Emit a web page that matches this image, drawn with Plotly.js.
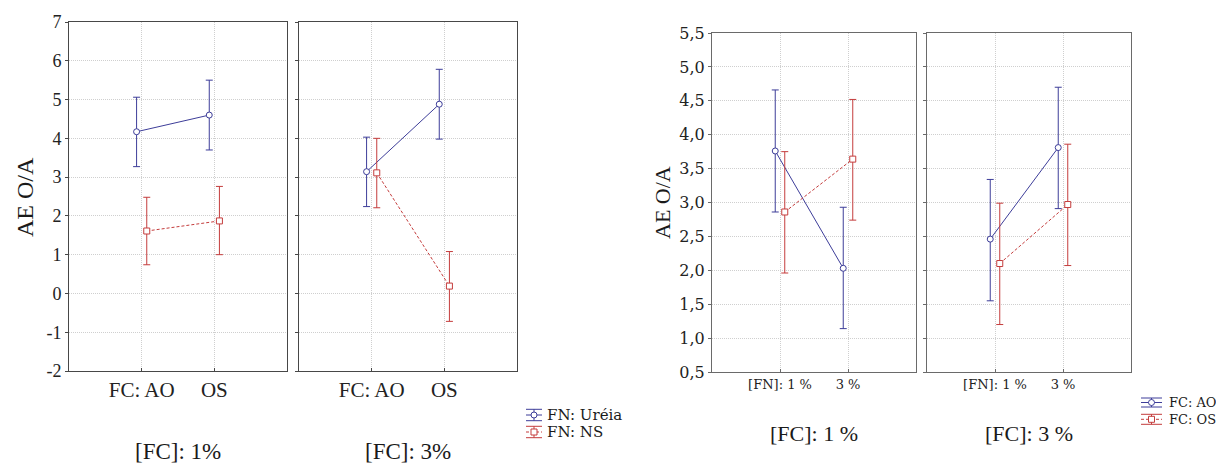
<!DOCTYPE html>
<html>
<head>
<meta charset="utf-8">
<script src="https://cdn.plot.ly/plotly-3.0.1.min.js"></script>
<style>html,body{margin:0;padding:0;background:#fff;}#chart{width:1216px;height:465px;}</style>
</head>
<body>
<div id="chart"></div>
<script>
// ---------- DATA ----------
// Left chart: x categories = FC type, panels = [FC] concentration, series = FN
const leftCategories = ['FC: AO', 'OS'];
const leftPanels = ['[FC]: 1%', '[FC]: 3%'];
const leftSeries = ['FN: Uréia', 'FN: NS'];

const ureiaP1Mean = [4.17, 4.60];
const ureiaP1Low  = [3.27, 3.70];
const ureiaP1High = [5.06, 5.50];
const nsP1Mean = [1.61, 1.87];
const nsP1Low  = [0.74, 1.00];
const nsP1High = [2.48, 2.76];

const ureiaP2Mean = [3.14, 4.88];
const ureiaP2Low  = [2.24, 3.98];
const ureiaP2High = [4.03, 5.78];
const nsP2Mean = [3.11, 0.19];
const nsP2Low  = [2.21, -0.72];
const nsP2High = [4.00, 1.08];

const leftYTickVals = [-2, -1, 0, 1, 2, 3, 4, 5, 6, 7];
const leftYTickText = ['-2', '-1', '0', '1', '2', '3', '4', '5', '6', '7'];

// Right chart: x categories = [FN], panels = [FC], series = FC type
const rightCategories = ['[FN]: 1 %', '3 %'];
const rightPanels = ['[FC]: 1 %', '[FC]: 3 %'];
const rightSeries = ['FC: AO', 'FC: OS'];

const aoP3Mean = [3.76, 2.03];
const aoP3Low  = [2.86, 1.14];
const aoP3High = [4.66, 2.93];
const osP3Mean = [2.86, 3.64];
const osP3Low  = [1.96, 2.74];
const osP3High = [3.75, 4.52];

const aoP4Mean = [2.46, 3.81];
const aoP4Low  = [1.55, 2.91];
const aoP4High = [3.34, 4.70];
const osP4Mean = [2.10, 2.97];
const osP4Low  = [1.20, 2.07];
const osP4High = [2.99, 3.86];

const rightYTickVals = [0.5, 1.0, 1.5, 2.0, 2.5, 3.0, 3.5, 4.0, 4.5, 5.0, 5.5];
const rightYTickText = ['0,5', '1,0', '1,5', '2,0', '2,5', '3,0', '3,5', '4,0', '4,5', '5,0', '5,5'];

// ---------- STYLE ----------
const W = 1216, H = 465;
const BLUE = '#3d3d99';
const RED = '#c43c3c';
const SERIF = '"Liberation Serif", "Times New Roman", Times, serif';
const DSERIF = '"DejaVu Serif", serif';
const px = v => v / W;
const py = v => 1 - v / H;
const OFF = 0.07;
const GRID = '#cfcfcf';

function series(xa, ya, mean, low, high, color, dashed, symbol, offset) {
  return {
    type: 'scatter', mode: 'lines+markers', xaxis: xa, yaxis: ya,
    x: mean.map((_, i) => i + offset), y: mean,
    line: {color: color, width: 1, dash: dashed ? '3px,2px' : 'solid'},
    marker: {symbol: symbol, size: 6, color: '#fff', line: {color: color, width: 1}},
    error_y: {type: 'data', symmetric: false,
      array: high.map((h, i) => h - mean[i]),
      arrayminus: mean.map((m, i) => m - low[i]),
      color: color, thickness: 1, width: 3.5},
    showlegend: false, hoverinfo: 'skip', cliponaxis: false
  };
}

const traces = [
  series('x', 'y', ureiaP1Mean, ureiaP1Low, ureiaP1High, BLUE, false, 'circle', -OFF),
  series('x', 'y', nsP1Mean, nsP1Low, nsP1High, RED, true, 'square', OFF),
  series('x2', 'y2', ureiaP2Mean, ureiaP2Low, ureiaP2High, BLUE, false, 'circle', -OFF),
  series('x2', 'y2', nsP2Mean, nsP2Low, nsP2High, RED, true, 'square', OFF),
  series('x3', 'y3', aoP3Mean, aoP3Low, aoP3High, BLUE, false, 'circle', -OFF),
  series('x3', 'y3', osP3Mean, osP3Low, osP3High, RED, true, 'square', OFF),
  series('x4', 'y4', aoP4Mean, aoP4Low, aoP4High, BLUE, false, 'circle', -OFF),
  series('x4', 'y4', osP4Mean, osP4Low, osP4High, RED, true, 'square', OFF)
];

function xAxis(x0, x1, anchor, cats, fontSize, family, frameColor) {
  return {
    domain: [px(x0), px(x1)], anchor: anchor, range: [-1, 2],
    tickmode: 'array', tickvals: cats.map((_, i) => i), ticktext: cats,
    showgrid: true, gridcolor: GRID, griddash: '1px,1px', gridwidth: 1,
    zeroline: false, showline: true, mirror: true, linecolor: frameColor, linewidth: 1,
    ticks: 'inside', ticklen: 3, tickcolor: frameColor,
    tickfont: {family: family, size: fontSize, color: '#222'}, fixedrange: true
  };
}
function yAxis(y0, y1, anchor, range, vals, text, showLabels, fontSize, family, frameColor) {
  return {
    domain: [py(y1), py(y0)], anchor: anchor, range: range,
    tickmode: 'array', tickvals: vals, ticktext: text, showticklabels: showLabels,
    showgrid: true, gridcolor: GRID, griddash: '1px,1px', gridwidth: 1,
    zeroline: false, showline: true, mirror: true, linecolor: frameColor, linewidth: 1,
    ticks: 'outside', ticklen: 3, tickcolor: frameColor,
    tickfont: {family: family, size: fontSize, color: '#222'}, fixedrange: true
  };
}

const shapes = [];
const annotations = [];

function legendEntry(x0, x1, yc, half, color, dashed, symbol) {
  const xl = px(x0), xr = px(x1), xm = px((x0 + x1) / 2);
  const line = (xa, ya, xb, yb, dash) => shapes.push({type: 'line', xref: 'paper', yref: 'paper',
    x0: xa, y0: ya, x1: xb, y1: yb, line: {color: color, width: 1, dash: dash || 'solid'}});
  line(xl, py(yc - half), xr, py(yc - half));
  line(xl, py(yc + half), xr, py(yc + half));
  line(xm, py(yc - half), xm, py(yc + half));
  line(xl, py(yc), xr, py(yc), dashed ? '3px,2px' : 'solid');
  const c = (x0 + x1) / 2, r = 3;
  shapes.push({type: symbol === 'circle' ? 'circle' : 'rect', xref: 'paper', yref: 'paper',
    x0: px(c - r), x1: px(c + r), y0: py(yc + r), y1: py(yc - r),
    fillcolor: '#fff', line: {color: color, width: 1}});
}
function text(x, y, t, size, family, xanchor, angle) {
  annotations.push({xref: 'paper', yref: 'paper', x: px(x), y: py(y), text: t, showarrow: false,
    xanchor: xanchor || 'center', yanchor: 'middle', textangle: angle || 0,
    font: {family: family, size: size, color: '#1a1a1a'}});
}

// Left chart labels
text(25, 197, 'AE O/A', 24, SERIF, 'center', -90);
text(178, 451, leftPanels[0], 23, SERIF);
text(408, 451, leftPanels[1], 23, SERIF);
legendEntry(526, 542, 415, 5.7, BLUE, false, 'circle');
legendEntry(526, 542, 432, 5.7, RED, true, 'square');
text(545, 415, leftSeries[0], 15, DSERIF, 'left');
text(545, 432, leftSeries[1], 15, DSERIF, 'left');

// Right chart labels
text(663, 203, 'AE O/A', 22, SERIF, 'center', -90);
text(814, 433, rightPanels[0], 22, SERIF);
text(1029, 433, rightPanels[1], 22, SERIF);
legendEntry(1141, 1162, 402.5, 4.5, BLUE, false, 'circle');
legendEntry(1141, 1162, 419.3, 5, RED, true, 'square');
text(1167, 402, rightSeries[0], 13, DSERIF, 'left');
text(1167, 419, rightSeries[1], 13, DSERIF, 'left');

const LF = '#474747', RF = '#6a6a6a';
const layout = {
  width: W, height: H, margin: {l: 0, r: 0, t: 0, b: 0},
  paper_bgcolor: '#fff', plot_bgcolor: '#fff', showlegend: false,
  xaxis:  xAxis(69, 287, 'y', leftCategories, 21, SERIF, LF),
  xaxis2: xAxis(299, 517, 'y2', leftCategories, 21, SERIF, LF),
  xaxis3: xAxis(712, 916, 'y3', rightCategories, 13, DSERIF, RF),
  xaxis4: xAxis(927, 1131, 'y4', rightCategories, 13, DSERIF, RF),
  yaxis:  yAxis(22, 371, 'x', [-2, 7], leftYTickVals, leftYTickText, true, 18, SERIF, LF),
  yaxis2: yAxis(22, 371, 'x2', [-2, 7], leftYTickVals, leftYTickText, false, 18, SERIF, LF),
  yaxis3: yAxis(33, 372, 'x3', [0.5, 5.5], rightYTickVals, rightYTickText, true, 16, DSERIF, RF),
  yaxis4: yAxis(33, 372, 'x4', [0.5, 5.5], rightYTickVals, rightYTickText, false, 16, DSERIF, RF),
  shapes: shapes, annotations: annotations
};

Plotly.newPlot('chart', traces, layout, {staticPlot: true, displayModeBar: false});
</script>
</body>
</html>
